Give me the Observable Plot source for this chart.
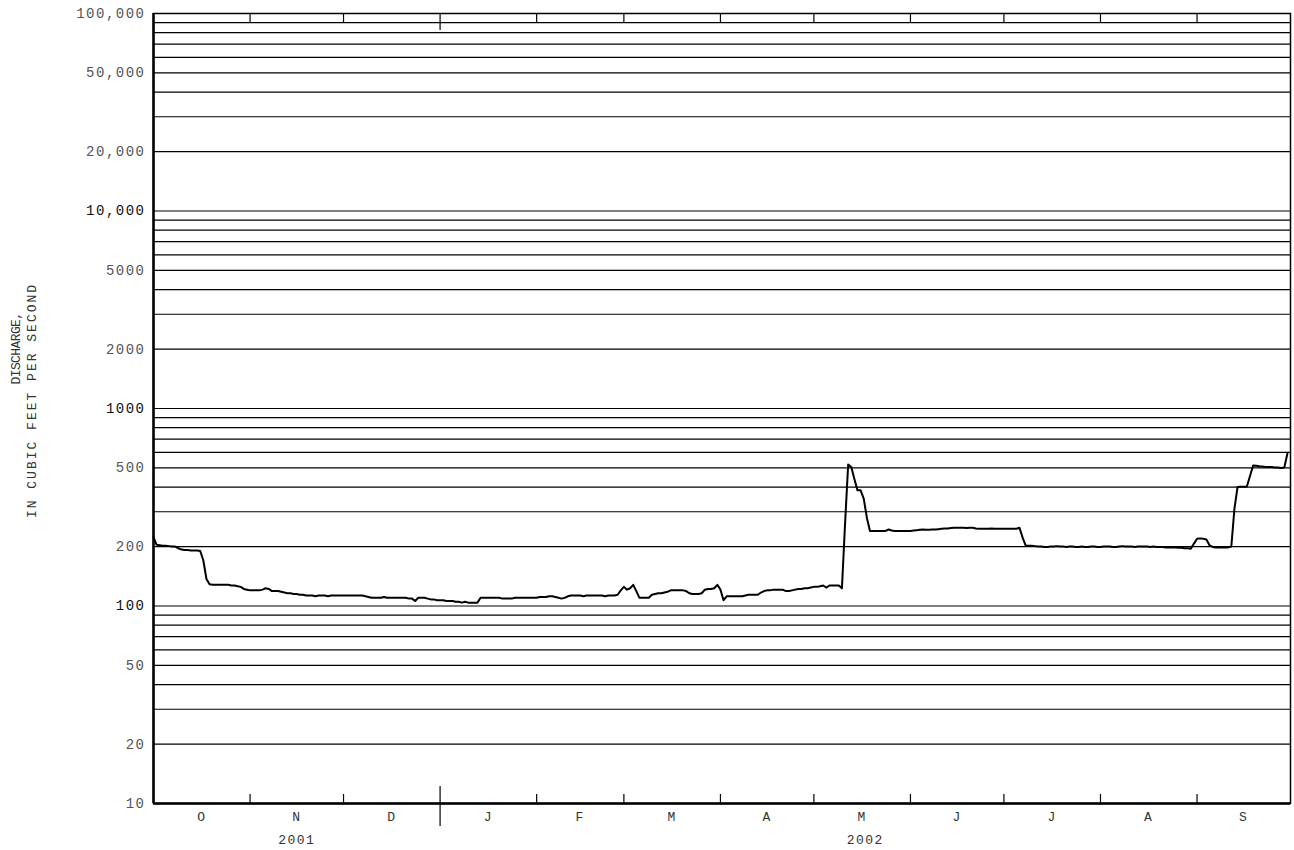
<!DOCTYPE html>
<html><head><meta charset="utf-8">
<script src="https://cdn.jsdelivr.net/npm/d3@7"></script>
<script src="https://cdn.jsdelivr.net/npm/@observablehq/plot@0.6"></script>
<style>html,body{margin:0;padding:0;background:#fff}</style>
</head><body><div id="chart"></div>
<script>
// Daily mean discharge, water year 2002 (Oct 1 2001 - Sep 30 2002), cfs
const oct = [223,204,203,202,202,201,200,200,196,193,192,192,191,191,191,190,170,137,129,128,128,128,128,128,128,127,127,126,125,122,121];
const nov = [120,120,120,120,121,123,122,119,119,119,118,117,116,116,115,115,114,114,113,113,113,112,113,113,113,112,113,113,113,113];
const dec = [113,113,113,113,113,113,113,112,111,110,110,110,110,111,110,110,110,110,110,110,110,109,109,106,110,110,110,109,108,108,107];
const jan = [107,107,106,106,106,105,105,104,105,104,104,104,104,110,110,110,110,110,110,110,109,109,109,109,110,110,110,110,110,110,110];
const feb = [110,111,111,111,112,112,111,110,109,110,112,113,113,113,113,112,113,113,113,113,113,113,112,113,113,113,114,120];
const mar = [125,121,123,128,119,110,110,110,110,114,115,116,116,117,118,120,120,120,120,120,119,116,115,115,115,116,121,122,122,123,128];
const apr = [121,107,112,112,112,112,112,112,113,114,114,114,114,117,119,120,120,121,121,121,121,119,119,120,121,122,122,123,123,124];
const may = [125,125,126,127,124,127,127,127,127,123,260,520,505,440,385,385,350,280,240,240,240,240,240,240,244,241,240,240,240,240,240];
const jun = [240,241,242,243,244,243,243,244,244,245,246,247,247,248,249,249,249,249,248,249,249,247,246,246,246,246,247,246,246,246];
const jul = [246,246,246,246,246,249,222,202,202,202,201,200,200,199,199,200,200,201,200,200,199,200,200,199,199,200,199,199,200,200,199];
const aug = [199,200,200,200,199,199,200,201,200,200,200,199,200,200,200,200,199,200,199,199,199,198,198,198,198,197,197,196,196,195,207];
const sep = [219,220,219,217,203,199,198,198,198,198,198,200,310,400,402,402,403,455,515,513,510,508,506,505,505,503,502,500,502,590];

const monthLabels = ["O","N","D","J","F","M","A","M","J","J","A","S"];
const yearLabels = ["2001","2002"];
const tickLabelsMajor = [100, 1000, 10000];
const tickLabelsMinor = [10, 20, 50, 200, 500, 2000, 5000, 20000, 50000, 100000];
const titleLines = ["DISCHARGE,", "IN CUBIC FEET PER SECOND"];

const t0 = new Date(Date.UTC(2001, 9, 1));
const tEnd = new Date(Date.UTC(2002, 9, 1));
const yearStart = new Date(Date.UTC(2002, 0, 1));
const values = [...oct, ...nov, ...dec, ...jan, ...feb, ...mar, ...apr, ...may, ...jun, ...jul, ...aug, ...sep];
const data = values.map((q, i) => ({date: d3.utcDay.offset(t0, i), q}));

const monthStarts = d3.utcMonths(t0, d3.utcDay.offset(tEnd, 1));
const innerMonths = monthStarts.slice(1, -1).filter(d => +d !== +yearStart);
const monthMids = monthLabels.map((label, i) => ({label, x: new Date((+monthStarts[i] + +monthStarts[i + 1]) / 2)}));
const yearMids = [
  {label: yearLabels[0], x: new Date((+t0 + +yearStart) / 2)},
  {label: yearLabels[1], x: new Date((+yearStart + +tEnd) / 2)}
];

const gridValues = [];
for (let k = 1; k <= 4; k++) for (let n = 1; n <= 9; n++) gridValues.push(n * Math.pow(10, k));
gridValues.push(100000);

const fmt = v => v >= 10000 ? d3.format(",")(v) : String(v);

const chart = Plot.plot({
  width: 1294,
  height: 850,
  marginLeft: 153,
  marginRight: 4,
  marginTop: 13,
  marginBottom: 47,
  x: {type: "utc", domain: [t0, tEnd], axis: null},
  y: {type: "log", domain: [10, 100000], axis: null},
  style: {fontFamily: "'Liberation Mono','DejaVu Sans Mono',monospace", fontSize: "14px", background: "#fff", color: "#000", letterSpacing: "1.5px"},
  marks: [
    Plot.ruleY(gridValues, {stroke: "#000", strokeWidth: 1.2}),
    Plot.tickX(innerMonths, {stroke: "#000", strokeWidth: 1.2, insetTop: 781}),
    Plot.tickX(innerMonths, {stroke: "#000", strokeWidth: 1.2, insetBottom: 781}),
    Plot.tickX([yearStart], {stroke: "#000", strokeWidth: 1.2, insetTop: 773, insetBottom: -23}),
    Plot.tickX([yearStart], {stroke: "#000", strokeWidth: 1.2, insetBottom: 773}),
    Plot.frame({stroke: "#000", strokeWidth: 1.5}),
    Plot.ruleX([t0], {stroke: "#000", strokeWidth: 2.5}),
    Plot.ruleY([10], {stroke: "#000", strokeWidth: 2.5}),
    Plot.line(data, {x: "date", y: "q", stroke: "#000", strokeWidth: 2, strokeLinejoin: "round"}),
    Plot.text(tickLabelsMajor, {y: d => d, text: fmt, frameAnchor: "left", textAnchor: "end", dx: -8, fill: "#111", fontSize: 14}),
    Plot.text(tickLabelsMinor, {y: d => d, text: fmt, frameAnchor: "left", textAnchor: "end", dx: -8, fill: "#555", fontSize: 14}),
    Plot.text(monthMids, {x: "x", text: "label", frameAnchor: "bottom", dy: 17, fill: "#333", fontSize: 13}),
    Plot.text(yearMids, {x: "x", text: "label", frameAnchor: "bottom", dy: 40, fill: "#333", fontSize: 13}),
    Plot.text([titleLines[0]], {frameAnchor: "left", textAnchor: "middle", dx: -138, dy: -60, rotate: -90, fill: "#333", fontSize: 13}),
    Plot.text([titleLines[1]], {frameAnchor: "left", textAnchor: "middle", dx: -122, dy: -8, rotate: -90, fill: "#333", fontSize: 13})
  ]
});
d3.select(chart).selectAll("text").filter(function() { return this.textContent === titleLines[0]; }).style("letter-spacing", "-0.6px");
d3.select(chart).selectAll("text").filter(function() { return this.textContent === titleLines[1]; }).style("letter-spacing", "2px");
document.getElementById("chart").append(chart);
</script>
</body></html>
